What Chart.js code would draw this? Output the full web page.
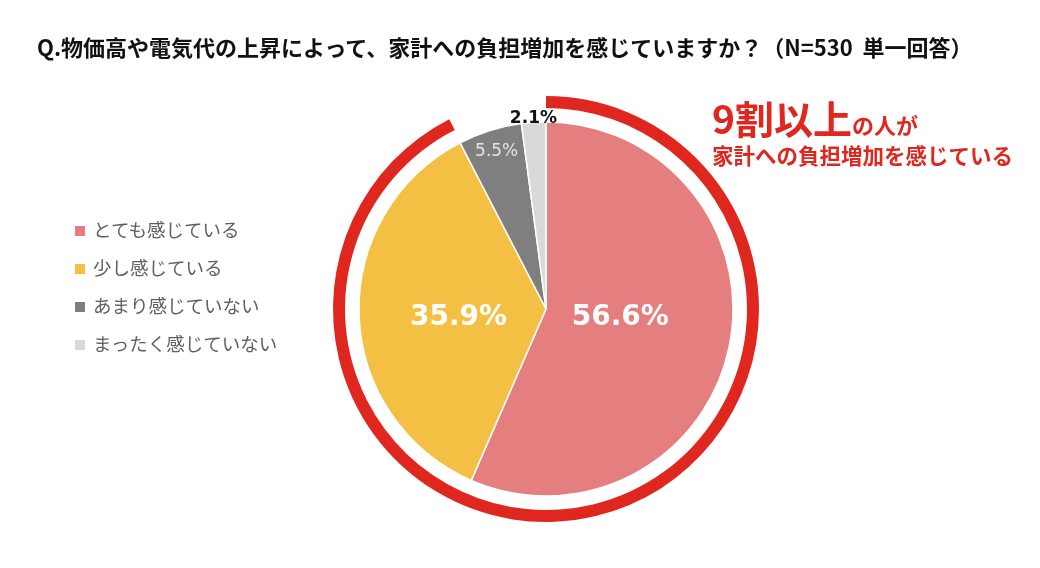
<!DOCTYPE html>
<html lang="ja">
<head>
<meta charset="utf-8">
<script src="https://cdn.jsdelivr.net/npm/chart.js@4"></script>
<style>
  html, body { margin: 0; padding: 0; background: #fff; }
  #wrap { position: relative; width: 1040px; height: 568px; overflow: hidden; }
  #myChart { position: absolute; left: 0; top: 0; }
  .jp { font-family: "Noto Sans CJK JP", "Noto Sans", sans-serif; }
  #title { position: absolute; left: 37px; top: 30px; font-size: 22px; font-weight: 700; color: #111; white-space: nowrap; }
  #note { position: absolute; left: 712px; top: 94px; color: #e0271f; font-weight: 700; white-space: nowrap; }
  #note .big { font-size: 39px; line-height: 46px; }
  #note .mid { font-size: 22px; }
  #note .l2 { font-size: 21.5px; line-height: 30px; }
  #legend { position: absolute; left: 75px; top: 214px; }
  .item { height: 38px; line-height: 30px; font-size: 18.5px; color: #5f5f5f; white-space: nowrap; }
  .box { display: inline-block; width: 10px; height: 10px; margin-right: 8px; vertical-align: 1px; }
</style>
</head>
<body>
<div id="wrap">
  <canvas id="myChart" width="1040" height="568"></canvas>
  <div id="title" class="jp">Q.物価高や電気代の上昇によって、家計への負担増加を感じていますか？（N=530&nbsp;&nbsp;単一回答）</div>
  <div id="note" class="jp"><span class="big">9割以上</span><span class="mid">の人が</span><div class="l2">家計への負担増加を感じている</div></div>
  <div id="legend" class="jp"></div>
</div>
<script>
const categories = ['とても感じている', '少し感じている', 'あまり感じていない', 'まったく感じていない'];
const shares = [56.6, 35.9, 5.5, 2.1];
const ringShares = [92.5, 7.5];   // 「感じている」合計 vs その他
const colors = ['#e57e7f', '#f3c043', '#7f7f7f', '#d9d9d9'];

// label placement: [fraction of radius, angle shift in degrees]
const labelPlace = [[0.40, -5], [0.47, -4], [0.88, 0], [1.02, 0]];
const labelStyle = [
  { font: 'bold 28px "DejaVu Sans"', color: '#ffffff' },
  { font: 'bold 28px "DejaVu Sans"', color: '#ffffff' },
  { font: '17px "DejaVu Sans"', color: '#e4e4e4' },
  { font: 'bold 17px "DejaVu Sans"', color: '#111111' }
];

const legend = document.getElementById('legend');
categories.forEach((c, i) => {
  const row = document.createElement('div');
  row.className = 'item';
  row.innerHTML = `<span class="box" style="background:${colors[i]}"></span>${c}`;
  legend.appendChild(row);
});

const sliceLabels = {
  id: 'sliceLabels',
  afterDatasetsDraw(chart) {
    const meta = chart.getDatasetMeta(2);
    const ctx = chart.ctx;
    ctx.save();
    ctx.textAlign = 'center';
    ctx.textBaseline = 'middle';
    meta.data.forEach((arc, i) => {
      const p = arc.getProps(['x', 'y', 'startAngle', 'endAngle', 'outerRadius'], true);
      const a = (p.startAngle + p.endAngle) / 2 + labelPlace[i][1] * Math.PI / 180;
      const r = p.outerRadius * labelPlace[i][0];
      ctx.font = labelStyle[i].font;
      ctx.fillStyle = labelStyle[i].color;
      ctx.fillText(shares[i].toFixed(1) + '%', p.x + Math.cos(a) * r, p.y + Math.sin(a) * r);
    });
    ctx.restore();
  }
};

const ctx = document.getElementById('myChart').getContext('2d');
const pieChart = new Chart(ctx, {
  type: 'pie',
  data: {
    labels: categories,
    datasets: [
      {
        data: ringShares,
        backgroundColor: ['#e0271f', 'rgba(0,0,0,0)'],
        borderWidth: 0,
        weight: 12
      },
      {
        data: [1],
        backgroundColor: ['rgba(0,0,0,0)'],
        borderWidth: 0,
        weight: 14
      },
      {
        data: shares,
        backgroundColor: colors,
        borderColor: '#ffffff',
        borderWidth: 1.5,
        weight: 187
      }
    ]
  },
  options: {
    responsive: false,
    animation: false,
    radius: 213,
    layout: { padding: { left: 52, top: 50, right: 0, bottom: 0 } },
    plugins: {
      legend: { display: false },
      tooltip: { enabled: false }
    },
    hoverOffset: 0
  },
  plugins: [sliceLabels]
});
</script>
</body>
</html>
